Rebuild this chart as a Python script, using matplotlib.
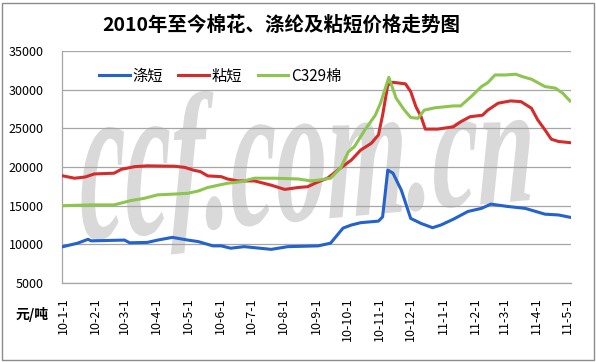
import matplotlib
matplotlib.use("Agg")
import numpy as np
import pandas as pd
import matplotlib.pyplot as plt
import matplotlib.dates as mdates
from matplotlib.textpath import TextPath
from matplotlib.font_manager import FontProperties
from matplotlib.patches import PathPatch, Rectangle
from matplotlib.path import Path
from matplotlib.transforms import IdentityTransform

plt.rcParams['font.family'] = ['Noto Sans CJK SC', 'DejaVu Sans']

# 涤短 (polyester staple), 元/吨
pet_dates = ["2010-01-01", "2010-01-15", "2010-01-25", "2010-01-28", "2010-03-01",
             "2010-03-06", "2010-03-23", "2010-04-02", "2010-04-16", "2010-05-01",
             "2010-05-11", "2010-05-25", "2010-06-02", "2010-06-11", "2010-06-24",
             "2010-07-20", "2010-08-05", "2010-09-03", "2010-09-15", "2010-09-27",
             "2010-10-05", "2010-10-14", "2010-10-31", "2010-11-04", "2010-11-09",
             "2010-11-14", "2010-11-22", "2010-12-01", "2010-12-11", "2010-12-22",
             "2010-12-30", "2011-01-11", "2011-01-25", "2011-02-07", "2011-02-16",
             "2011-03-04", "2011-03-21", "2011-04-09", "2011-04-22", "2011-05-03"]
pet_vals = [9700, 10150, 10650, 10450, 10550, 10200, 10250, 10550, 10900, 10550,
            10350, 9800, 9800, 9500, 9700, 9350, 9700, 9800, 10150, 12100,
            12500, 12800, 13000, 13550, 19600, 19200, 17000, 13350, 12700, 12150,
            12500, 13250, 14250, 14650, 15200, 14900, 14650, 13900, 13800, 13500]

# 粘短 (viscose staple)
vsf_dates = ["2010-01-01", "2010-01-12", "2010-01-22", "2010-01-31", "2010-02-19",
             "2010-02-26", "2010-03-11", "2010-03-23", "2010-04-18", "2010-04-28",
             "2010-05-06", "2010-05-13", "2010-05-20", "2010-06-02", "2010-06-08",
             "2010-06-18", "2010-07-04", "2010-07-20", "2010-08-02", "2010-08-15",
             "2010-08-24", "2010-08-31", "2010-09-12", "2010-09-22", "2010-10-05",
             "2010-10-14", "2010-10-24", "2010-10-31", "2010-11-04", "2010-11-09",
             "2010-11-14", "2010-11-26", "2010-12-01", "2010-12-06", "2010-12-11",
             "2010-12-15", "2010-12-27", "2011-01-11", "2011-01-18", "2011-01-27",
             "2011-02-08", "2011-02-13", "2011-02-23", "2011-03-07", "2011-03-17",
             "2011-03-27", "2011-04-02", "2011-04-09", "2011-04-15", "2011-04-22",
             "2011-05-03"]
vsf_vals = [18850, 18550, 18700, 19100, 19200, 19700, 20050, 20150, 20100, 19950,
            19600, 19400, 18850, 18750, 18450, 18200, 18200, 17650, 17100, 17350,
            17450, 17900, 18550, 19600, 20900, 22200, 23050, 24150, 26700, 30600,
            30950, 30750, 29750, 27800, 26500, 24900, 24900, 25200, 25850, 26500,
            26700, 27350, 28250, 28550, 28450, 27600, 26100, 24800, 23600, 23300,
            23150]

# C329棉 (cotton)
cot_dates = ["2010-01-01", "2010-01-28", "2010-02-19", "2010-03-07", "2010-03-20",
             "2010-04-02", "2010-04-18", "2010-05-01", "2010-05-11", "2010-05-20",
             "2010-06-08", "2010-06-21", "2010-07-04", "2010-07-23", "2010-08-15",
             "2010-08-27", "2010-09-03", "2010-09-15", "2010-09-25", "2010-10-02",
             "2010-10-08", "2010-10-18", "2010-10-28", "2010-11-02", "2010-11-10",
             "2010-11-17", "2010-11-25", "2010-12-01", "2010-12-08", "2010-12-14",
             "2010-12-24", "2011-01-11", "2011-01-18", "2011-01-28", "2011-02-07",
             "2011-02-13", "2011-02-20", "2011-03-02", "2011-03-12", "2011-03-18",
             "2011-03-27", "2011-04-09", "2011-04-19", "2011-04-26", "2011-05-03"]
cot_vals = [15000, 15100, 15100, 15650, 15950, 16400, 16500, 16600, 16900, 17350,
            17900, 18100, 18550, 18550, 18450, 18200, 18300, 18550, 19950, 21950,
            22650, 24800, 26700, 28250, 31600, 28900, 27350, 26400, 26300, 27350,
            27650, 27900, 27900, 29100, 30400, 30900, 31900, 31900, 32000, 31700,
            31350, 30400, 30200, 29550, 28550]

series_names = ["涤短", "粘短", "C329棉"]
series_colors = ["#2462CC", "#D62B2B", "#8DC550"]

W, H = 596, 362
fig = plt.figure(figsize=(W / 100, H / 100), dpi=100)
ax = fig.add_axes([62 / W, 1 - 283 / H, 509 / W, 232 / H])

# watermark: text path squeezed into a slightly tapering box,
# ascenders/descenders flattened a bit
fp = FontProperties(family="Liberation Serif", style="italic", weight="bold")
tp = TextPath((0, 0), "ccf.com.cn", size=100, prop=fp)
xh = TextPath((0, 0), "c", size=100, prop=fp).get_extents().height
v = tp.vertices.copy()
x0, x1 = v[:, 0].min(), v[:, 0].max()
u = (v[:, 0] - x0) / (x1 - x0)
yy = v[:, 1] / xh
yy = np.where(yy > 1, 1 + (yy - 1) * 0.65, yy)
yy = np.where(yy < 0, yy * 0.45, yy)
base = 241 - 41 * u
hgt = 116 - 34 * u
yimg = base - yy * hgt
xs = 80 + u * 450
wm = Path(np.column_stack([xs, H - yimg]), tp.codes)
ax.add_patch(PathPatch(wm, transform=IdentityTransform(), facecolor="#d9d9d9",
                       edgecolor="none", zorder=0.3, clip_on=False))

for d, vals, name, col in zip([pet_dates, vsf_dates, cot_dates],
                              [pet_vals, vsf_vals, cot_vals],
                              series_names, series_colors):
    ax.plot(pd.to_datetime(d), vals, color=col, lw=2.2, label=name, zorder=3)

ax.set_ylim(5000, 35000)
ax.set_yticks(np.arange(5000, 35001, 5000))
ax.set_xlim(pd.Timestamp("2009-12-31"), pd.Timestamp("2011-05-04"))
ax.xaxis.set_major_locator(mdates.MonthLocator())
ax.xaxis.set_major_formatter(plt.FuncFormatter(
    lambda x, pos: "{}-{}-{}".format(mdates.num2date(x).year % 100,
                                     mdates.num2date(x).month,
                                     mdates.num2date(x).day)))
ax.tick_params(axis="x", length=0, pad=10, labelsize=9, rotation=90)
ax.tick_params(axis="y", length=0, pad=13, labelsize=9)
ax.grid(axis="y", color="#a6a6a6", lw=0.9)
ax.set_axisbelow(True)
for s in ["top", "right"]:
    ax.spines[s].set_visible(False)
for s in ["left", "bottom"]:
    ax.spines[s].set_color("#a6a6a6")
    ax.spines[s].set_linewidth(0.9)
ax.patch.set_alpha(0)

ax.legend(loc="center left", bbox_to_anchor=(99 / W, 1 - 76 / H),
          bbox_transform=fig.transFigure, ncol=3, frameon=False, fontsize=11,
          handlelength=2.0, handletextpad=0.2, columnspacing=1.0,
          borderpad=0, borderaxespad=0)

fig.text(281 / W, 1 - 25 / H, "2010年至今棉花、涤纶及粘短价格走势图",
         ha="center", va="center", fontsize=14, fontweight="bold")
fig.text(32 / W, 1 - 315 / H, "元/吨", ha="center", va="center",
         fontsize=10, fontweight="bold")

fig.patches.append(Rectangle((2, 2), 592, 357, transform=IdentityTransform(),
                             fill=False, edgecolor="#8c8c8c", lw=1))

fig.savefig("out.png", dpi=100)
